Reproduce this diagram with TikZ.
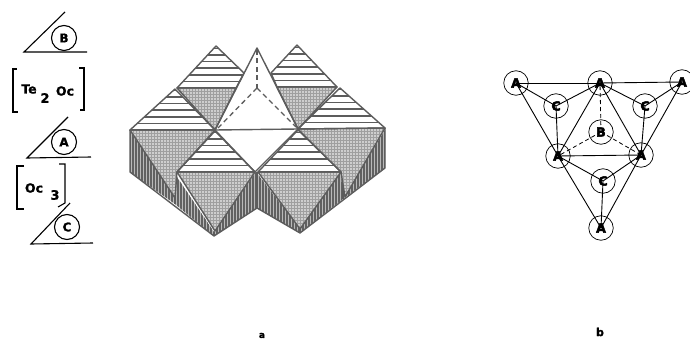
\documentclass[tikz,border=0pt]{standalone}
\usepackage{fontspec}
\setmainfont{DejaVu Sans}
\newfontfamily\fatfont[FakeBold=3.5]{DejaVu Sans Bold}
\newfontfamily\semifat[FakeBold=1]{DejaVu Sans Bold}
\definecolor{edge}{gray}{0.36}
\tikzset{
  ink/.style={line width=1.1pt,black},
  atom/.style={circle,draw=black,line width=0.7pt,minimum size=24.5pt,inner sep=0pt,fill=white},
  wedgeatom/.style={circle,draw=black,line width=1.1pt,minimum size=25pt,inner sep=0pt,font=\semifat\fontsize{12}{12}\selectfont},
  blob/.style={inner sep=0pt,font=\fatfont\fontsize{12.5}{12.5}\selectfont},
  lab/.style={inner sep=0pt,font=\semifat\fontsize{12.5}{12.5}\selectfont},
  sublab/.style={inner sep=0pt,font=\semifat\fontsize{13}{13}\selectfont},
  bond/.style={line width=0.9pt,black},
  hidden/.style={line width=0.8pt,black,dash pattern=on 4pt off 3pt},
  outline/.style={draw=edge,line width=1.4pt,line join=round},
  dashedge/.style={draw=edge,line width=1.3pt,dash pattern=on 5pt off 3.5pt}
}
\newcommand{\stripetri}[2]{%
  \begin{scope}
    \clip #1;
    \foreach \k in {0,...,6}{\draw[edge,line width=1.6pt] (100,{#2-6.6*\k}) -- (400,{#2-6.6*\k});}
  \end{scope}
  \draw[outline] #1;
}
% polygon, x from, x to, y from, y to
\newcommand{\dotface}[5]{%
  \begin{scope}
    \clip #1;
    \fill[gray!75] (#2,#4) rectangle (#3,#5);
    \foreach \xx in {#2,\the\numexpr#2+3\relax,...,#3}
      \foreach \yy in {#4,\the\numexpr#4+3\relax,...,#5}
        \fill[white] (\xx,\yy) circle (0.85pt);
  \end{scope}
  \draw[outline] #1;
}
\newcommand{\darkface}[3]{%
  \begin{scope}
    \clip #1;
    \fill[gray!55] (#2,100) rectangle (#3,250);
    \foreach \xx in {#2,\the\numexpr#2+3\relax,...,#3}
      \draw[black!62,line width=1.2pt] (\xx,100)--(\xx,250);
  \end{scope}
}
\begin{document}
\begin{tikzpicture}[x=1pt,y=-1pt]
\useasboundingbox (0,0) rectangle (690,342);
% polyhedra, part a
\darkface{(130,131)--(175,198)--(175,204)--(130,172)--cycle}{130}{176}
\darkface{(175,174)--(214,232)--(214,236)--(175,204)--cycle}{175}{215}
\darkface{(256,172)--(257,208)--(214,236)--(214,232)--cycle}{214}{258}
\darkface{(257,173)--(300,229)--(300,233)--(257,208)--cycle}{257}{301}
\darkface{(341,172)--(343,199)--(300,233)--(300,229)--cycle}{300}{344}
\darkface{(385,130)--(385,168)--(343,199)--cycle}{343}{386}
\draw[outline] (130,130)--(130,172)--(214,236)--(257,208)--(300,233)--(385,168)--(385,128);
\draw[outline] (175,174)--(175,204) (257,172)--(257,208) (343,172)--(343,199) (214,232)--(214,236) (300,229)--(300,233);
\dotface{(130,130)--(215,130)--(177,172)--(175,198)--cycle}{129}{216}{129}{200}
\dotface{(298,129)--(385,128)--(345,197)--(341,172)--cycle}{297}{386}{127}{199}
\dotface{(177,172)--(255,172)--(215,231)--cycle}{176}{256}{171}{232}
\dotface{(258,172)--(341,172)--(300,229)--cycle}{257}{342}{171}{230}
\dotface{(177,88)--(236,88)--(215,130)--cycle}{176}{237}{87}{131}
\dotface{(277,87)--(337,87)--(298,129)--cycle}{276}{338}{86}{130}
\stripetri{(216,46)--(177,88)--(236,88)--(244,73)--cycle}{88}
\stripetri{(297,45)--(271,73)--(277,87)--(337,87)--cycle}{87}
\stripetri{(175,89)--(130,130)--(215,130)--cycle}{130}
\stripetri{(340,88)--(298,129)--(385,128)--cycle}{129}
\stripetri{(215,131)--(177,172)--(255,172)--cycle}{172}
\stripetri{(298,130)--(258,172)--(341,172)--cycle}{172}
% white tetrahedron
\draw[outline] (215,130)--(257,48)--(298,129)--cycle;
\draw[outline] (215,130)--(255,172)--(298,129);
\coordinate (tt) at (257,50);
\coordinate (tc) at (257,88);
\coordinate (tl) at (218,128);
\coordinate (tr) at (296,127);
\draw[dashedge] (tt)--(tc);
\draw[dashedge] (tc)--(tl);
\draw[dashedge] (tc)--(tr);
% stacking sequence
\coordinate (b1) at (65,12); \coordinate (b2) at (24,52); \coordinate (b3) at (87,52);
\draw[ink] (b1)--(b2)--(b3);
\node[wedgeatom] (nb) at (64,38) {B};
\coordinate (a1) at (68,117); \coordinate (a2) at (27,158); \coordinate (a3) at (91,157);
\draw[ink] (a1)--(a2)--(a3);
\node[wedgeatom,fill=white] (na) at (64,142) {A};
\coordinate (c1) at (70,203); \coordinate (c2) at (31,244); \coordinate (c3) at (93,243);
\draw[ink] (c1)--(c2)--(c3);
\node[wedgeatom,fill=white] (nc) at (67,227) {C};
\draw[ink] (17,69)--(13,69)--(13,112)--(18,112);
\draw[ink] (79,68)--(84,68)--(84,110)--(80,110);
\node[lab] (te) at (29,89) {Te};
\node[sublab] (two) at (45,98) {2};
\node[lab] (oc1) at (65,91) {Oc};
\draw[ink] (24,166)--(17,166)--(17,209)--(24,209);
\draw[ink] (59,164)--(65,164)--(65,203)--(58,207);
\node[lab] (oc2) at (34,188) {Oc};
\node[sublab] (three) at (55,195) {3};
% projection, part b
\node[atom] (A1) at (516,83) {};
\node[atom] (A2) at (600,83) {};
\node[atom] (A3) at (682,82) {};
\node[atom] (C1) at (556,106) {};
\node[atom] (C2) at (645,106) {};
\node[atom] (B0) at (601,132) {};
\node[atom] (A4) at (558,156) {};
\node[atom] (A5) at (641,155) {};
\node[atom] (C3) at (603,181) {};
\node[atom] (A6) at (601,228) {};
\foreach \p/\q in {A1/A2,A2/A3,A1/C1,C1/A2,A2/C2,C2/A3,A1/A4,C1/A4,A2/A4,A2/A5,C2/A5,A3/A5,A4/A5,A4/C3,C3/A5,C3/A6,A4/A6,A5/A6}
  \draw[bond] (\p.center)--(\q.center);
\foreach \q in {A2,A4,A5}
  \draw[hidden] (B0.center)--(\q.center);
\node[blob] at (A1) {A};
\node[blob] at (A2) {A};
\node[blob] at (A3) {A};
\node[blob] at (A4) {A};
\node[blob] at (A5) {A};
\node[blob] at (A6) {A};
\node[blob] at (C1) {C};
\node[blob] at (C2) {C};
\node[blob] at (C3) {C};
\node[blob] at (B0) {B};
% part labels
\node[lab,font=\semifat\fontsize{9}{9}\selectfont] (la) at (262,335.5) {a};
\node[lab,font=\semifat\fontsize{11}{11}\selectfont] (lb) at (600,332) {b};
\end{tikzpicture}
\end{document}
